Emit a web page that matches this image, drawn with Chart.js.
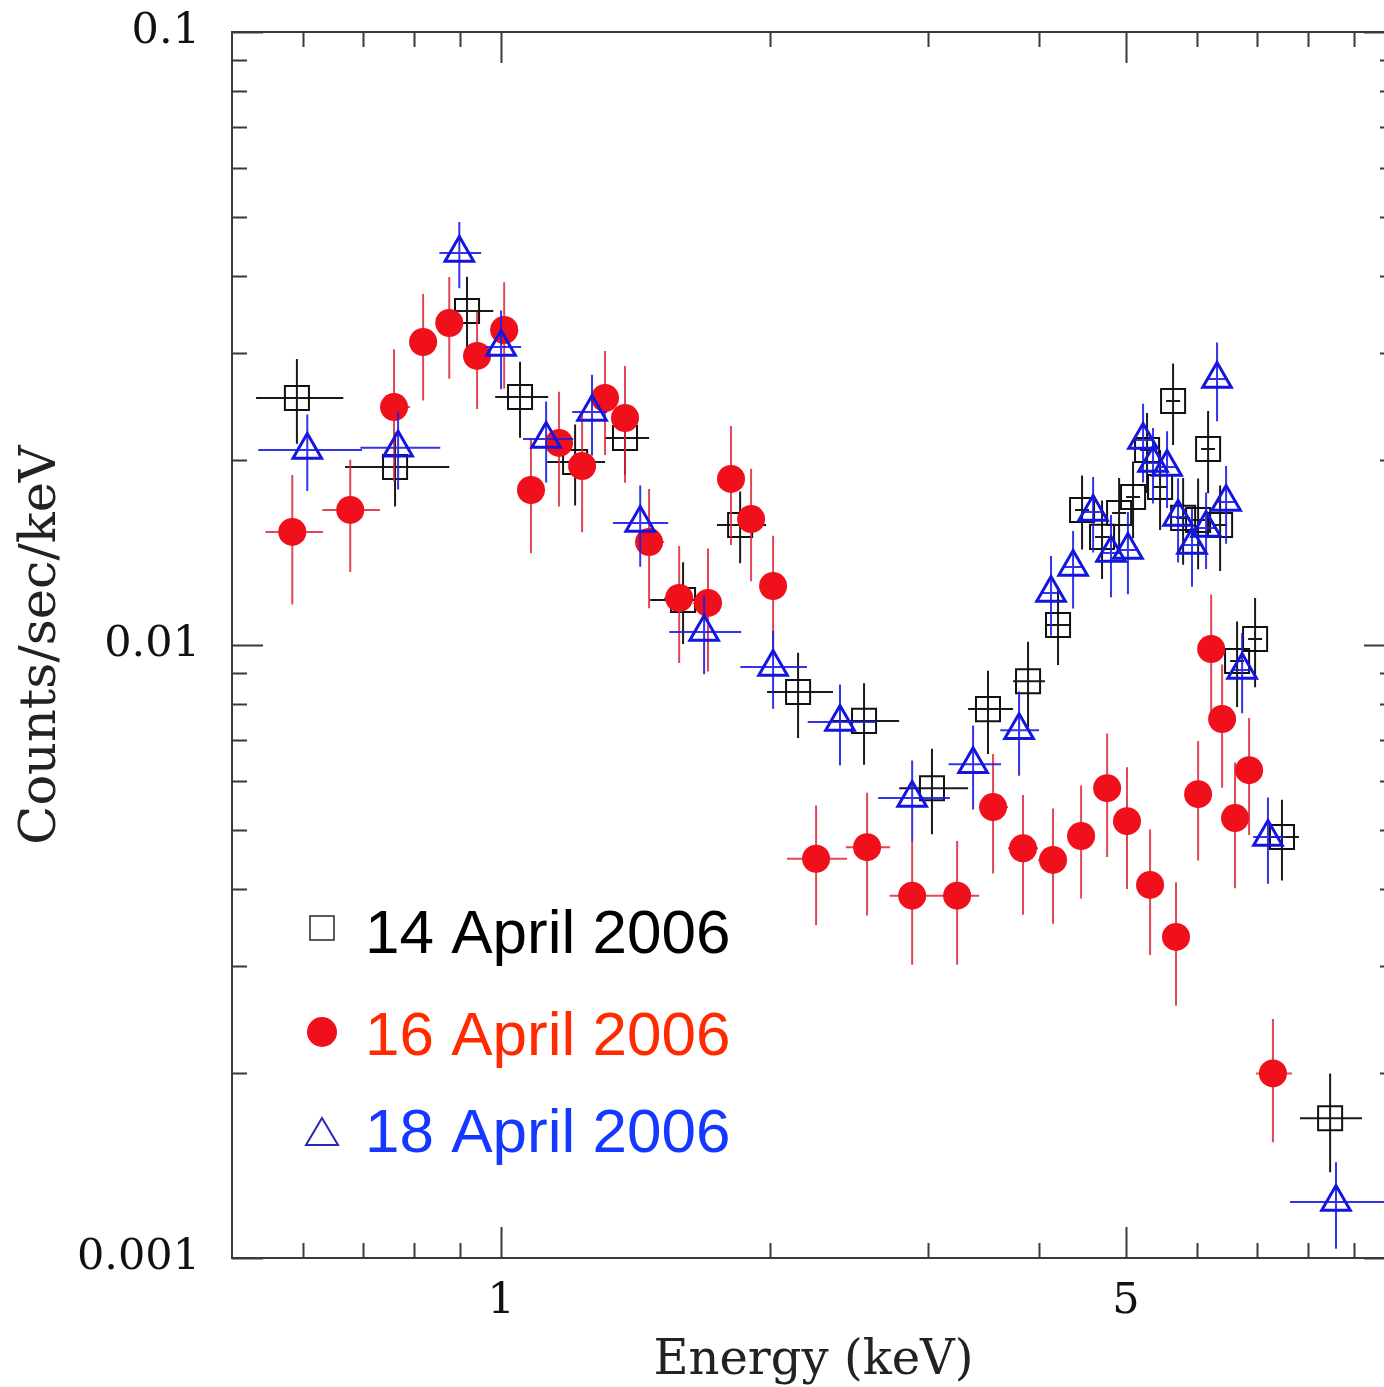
<!DOCTYPE html>
<html><head><meta charset="utf-8">
<script src="https://cdn.jsdelivr.net/npm/chart.js@4.4.1/dist/chart.umd.min.js"></script>
<style>html,body{margin:0;padding:0;background:#fff;overflow:hidden;width:1384px;height:1387px}canvas{display:block}</style>
</head><body>
<canvas id="c" width="1420" height="1387"></canvas>
<script>
// ---------- data ----------
const seriesLabels = ['14 April 2006', '16 April 2006', '18 April 2006'];

// 14 April 2006 (open squares)
const apr14Energy = [0.591,0.761,0.916,1.050,1.210,1.376,1.598,1.851,2.149,2.547,3.034,3.505,3.886,4.198,4.466,4.702,4.913,5.093,5.280,5.460,5.646,5.794,6.022,6.179,6.373,6.658,6.974,7.474,8.461];
const apr14Lo     = [0.532,0.669,0.866,0.985,1.126,1.307,1.468,1.744,1.984,2.351,2.788,3.330,3.739,4.070,4.386,4.618,4.825,5.002,5.186,5.362,5.545,5.690,5.914,6.068,6.259,6.539,6.849,7.247,7.828];
const apr14Hi     = [0.666,0.875,0.980,1.129,1.307,1.464,1.736,1.979,2.351,2.788,3.330,3.739,4.059,4.330,4.547,4.788,5.002,5.186,5.376,5.559,5.749,5.899,6.132,6.291,6.489,6.779,7.101,7.808,9.186];
const apr14Counts = [0.02529,0.01952,0.03506,0.02539,0.01989,0.02176,0.01184,0.01570,0.00838,0.00752,0.00584,0.00786,0.00873,0.01078,0.01661,0.01501,0.01642,0.01743,0.02080,0.01810,0.02500,0.01612,0.01599,0.02088,0.01570,0.00942,0.01023,0.00486,0.00169];
const apr14Err    = [0.0040,0.0027,0.0048,0.0036,0.0030,0.0028,0.0018,0.0021,0.00133,0.00114,0.00093,0.00122,0.00139,0.0015,0.0023,0.0022,0.0023,0.0025,0.0031,0.0027,0.0038,0.0026,0.0027,0.0032,0.0025,0.0015,0.0017,0.00073,0.00031];

// 16 April 2006 (filled circles)
const apr16Energy = [0.584,0.678,0.759,0.818,0.875,0.940,1.008,1.080,1.161,1.232,1.307,1.376,1.464,1.582,1.704,1.808,1.904,2.015,2.251,2.567,2.883,3.237,3.551,3.836,4.144,4.455,4.764,5.014,5.321,5.689,6.022,6.228,6.406,6.623,6.867,7.302];
const apr16Lo     = [0.545,0.631,0.732,0.791,0.848,0.907,0.972,1.045,1.120,1.194,1.270,1.341,1.419,1.522,1.640,1.758,1.856,1.959,2.089,2.430,2.720,3.074,3.426,3.690,3.988,4.297,4.606,4.887,5.160,5.503,5.852,6.116,6.307,6.505,6.745,6.992];
const apr16Hi     = [0.632,0.732,0.791,0.848,0.907,0.972,1.045,1.120,1.194,1.270,1.341,1.419,1.522,1.640,1.758,1.856,1.959,2.089,2.438,2.724,3.074,3.426,3.690,3.988,4.297,4.606,4.887,5.160,5.503,5.852,6.116,6.307,6.505,6.745,6.992,7.670];
const apr16Counts = [0.01529,0.01661,0.02444,0.03121,0.03352,0.02962,0.03265,0.01790,0.02136,0.01959,0.02529,0.02346,0.01472,0.01193,0.01171,0.01866,0.01605,0.01248,0.00448,0.00468,0.00390,0.00390,0.00544,0.00466,0.00446,0.00488,0.00584,0.00516,0.00406,0.00334,0.00571,0.00985,0.00757,0.00522,0.00625,0.00200];
const apr16Err    = [0.00365,0.00345,0.00594,0.00615,0.00633,0.00536,0.00643,0.00379,0.00453,0.00431,0.00488,0.00507,0.00324,0.00258,0.00266,0.0041,0.00334,0.0026,0.00099,0.00106,0.00089,0.00089,0.0012,0.00103,0.00095,0.00102,0.00133,0.00116,0.00094,0.00076,0.00126,0.00224,0.00172,0.00121,0.00135,0.000455];

// 18 April 2006 (open triangles)
const apr18Energy = [0.607,0.767,0.898,1.000,1.123,1.264,1.431,1.687,2.015,2.394,2.883,3.373,3.797,4.123,4.364,4.595,4.812,5.026,5.226,5.362,5.559,5.719,5.928,6.147,6.323,6.472,6.745,7.209,8.590];
const apr18Lo     = [0.535,0.696,0.853,0.960,1.058,1.201,1.334,1.542,1.852,2.203,2.641,3.167,3.618,4.028,4.264,4.489,4.702,4.910,5.106,5.239,5.431,5.587,5.792,6.006,6.178,6.323,6.590,6.939,7.631];
const apr18Hi     = [0.699,0.855,0.950,1.053,1.204,1.314,1.538,1.856,2.199,2.628,3.178,3.625,3.998,4.220,4.466,4.703,4.925,5.144,5.349,5.488,5.690,5.853,6.067,6.292,6.472,6.624,6.903,7.534,10.5];
const apr18Counts = [0.02080,0.02097,0.04359,0.03063,0.02168,0.02399,0.01581,0.01050,0.00921,0.00749,0.00563,0.00639,0.00726,0.01216,0.01341,0.01648,0.01413,0.01429,0.02159,0.01981,0.01952,0.01617,0.01456,0.01552,0.02716,0.01711,0.00910,0.00486,0.001234];
const apr18Err    = [0.00297,0.00304,0.0054,0.0045,0.00327,0.00362,0.00239,0.00154,0.00134,0.00113,0.00085,0.0010,0.00114,0.00181,0.00194,0.00232,0.00216,0.00219,0.00317,0.00279,0.00279,0.00254,0.00211,0.00222,0.00399,0.00248,0.00136,0.00078,0.000199];

// axes ticks
const xTickValues = [0.6,0.7,0.8,0.9,1,2,3,4,5,6,7,8,9,10];
const xMajorValues = [1,5,10];
const xLabelValues = [1,5];
const xLabelTexts = ['1','5'];
const yTickValues = [0.001,0.002,0.003,0.004,0.005,0.006,0.007,0.008,0.009,0.01,0.02,0.03,0.04,0.05,0.06,0.07,0.08,0.09,0.1];
const yMajorValues = [0.001,0.01,0.1];
const yLabelValues = [0.001,0.01,0.1];
const yLabelTexts = ['0.001','0.01','0.1'];
const xTitle = 'Energy (keV)';
const yTitle = 'Counts/sec/keV';

// ---------- build ----------
function pts(e, lo, hi, c, err) {
  return e.map((v, i) => ({x: v, y: c[i], xMin: lo[i], xMax: hi[i], yErr: err[i]}));
}
const near = (a, b) => Math.abs(a - b) < 1e-9 * Math.max(1, Math.abs(b));

const errorBars = {
  id: 'errorBars',
  beforeDatasetDraw(chart, args) {
    const ds = chart.data.datasets[args.index];
    const xs = chart.scales.x, ys = chart.scales.y, ctx = chart.ctx, a = chart.chartArea;
    ctx.save();
    ctx.beginPath(); ctx.rect(a.left, a.top, a.right - a.left, a.bottom - a.top); ctx.clip();
    ctx.strokeStyle = ds.errorColor; ctx.lineWidth = ds.errorWidth; ctx.lineCap = 'butt';
    ds.data.forEach(p => {
      const x = xs.getPixelForValue(p.x), y = ys.getPixelForValue(p.y);
      ctx.beginPath();
      ctx.moveTo(xs.getPixelForValue(p.xMin), y); ctx.lineTo(xs.getPixelForValue(p.xMax), y);
      ctx.moveTo(x, ys.getPixelForValue(Math.max(p.y - p.yErr, 1e-5))); ctx.lineTo(x, ys.getPixelForValue(p.y + p.yErr));
      ctx.stroke();
    });
    ctx.restore();
  }
};

const frame = {
  id: 'frame',
  afterDatasetsDraw(chart) {
    const {ctx, chartArea: a} = chart;
    const xs = chart.scales.x, ys = chart.scales.y;
    ctx.save();
    ctx.strokeStyle = '#3a3a3a'; ctx.lineWidth = 2;
    ctx.strokeRect(a.left, a.top, a.right - a.left, a.bottom - a.top);
    ctx.beginPath();
    xTickValues.forEach(v => {
      const px = Math.round(xs.getPixelForValue(v)) + 0.5;
      const len = xMajorValues.some(m => near(m, v)) ? 31 : 15;
      ctx.moveTo(px, a.bottom); ctx.lineTo(px, a.bottom - len);
      ctx.moveTo(px, a.top); ctx.lineTo(px, a.top + len);
    });
    yTickValues.forEach(v => {
      const py = Math.round(ys.getPixelForValue(v)) + 0.5;
      const len = yMajorValues.some(m => near(m, v)) ? 31 : 15;
      ctx.moveTo(a.left, py); ctx.lineTo(a.left + len, py);
      ctx.moveTo(a.right, py); ctx.lineTo(a.right - len, py);
    });
    ctx.stroke();
    ctx.restore();
  }
};

const legendBox = {
  id: 'legendBox',
  afterDraw(chart) {
    const ctx = chart.ctx;
    const mx = 322, tx = 365;
    const rows = [
      {my: 928, ty: 953, color: '#000000'},
      {my: 1032, ty: 1055, color: '#ff2a00'},
      {my: 1133, ty: 1152, color: '#1438ff'}
    ];
    ctx.save();
    ctx.lineWidth = 1.6; ctx.strokeStyle = '#333';
    ctx.strokeRect(mx - 12, rows[0].my - 12, 24, 24);
    ctx.fillStyle = '#f0101c';
    ctx.beginPath(); ctx.arc(mx, rows[1].my, 15, 0, Math.PI * 2); ctx.fill();
    ctx.strokeStyle = '#2828b0'; ctx.lineWidth = 2;
    ctx.beginPath();
    ctx.moveTo(mx, rows[2].my - 15); ctx.lineTo(mx + 16, rows[2].my + 12); ctx.lineTo(mx - 16, rows[2].my + 12); ctx.closePath();
    ctx.stroke();
    ctx.font = '62px "Liberation Sans", Arial, sans-serif';
    ctx.textBaseline = 'alphabetic'; ctx.textAlign = 'left';
    rows.forEach((r, i) => { ctx.fillStyle = r.color; ctx.fillText(chart.data.datasets[i].label, tx, r.ty); });
    ctx.restore();
  }
};

new Chart(document.getElementById('c'), {
  type: 'scatter',
  data: {
    datasets: [
      {label: seriesLabels[0], data: pts(apr14Energy, apr14Lo, apr14Hi, apr14Counts, apr14Err),
       pointStyle: 'rect', pointRadius: 17, borderColor: '#111111', borderWidth: 2, backgroundColor: 'rgba(0,0,0,0)',
       errorColor: '#1a1a1a', errorWidth: 2, order: 3},
      {label: seriesLabels[1], data: pts(apr16Energy, apr16Lo, apr16Hi, apr16Counts, apr16Err),
       pointStyle: 'circle', pointRadius: 14, borderWidth: 0, borderColor: '#f0101c', backgroundColor: '#f0101c',
       errorColor: 'rgba(220,40,55,0.85)', errorWidth: 2, order: 2},
      {label: seriesLabels[2], data: pts(apr18Energy, apr18Lo, apr18Hi, apr18Counts, apr18Err),
       pointStyle: 'triangle', pointRadius: 16.5, borderColor: '#1515e0', borderWidth: 3, backgroundColor: 'rgba(0,0,0,0)',
       errorColor: 'rgba(30,30,230,0.9)', errorWidth: 2, order: 1}
    ]
  },
  options: {
    responsive: false, animation: false, events: [],
    layout: {padding: {top: 32, right: 25, bottom: 0, left: 0}},
    plugins: {legend: {display: false}, tooltip: {enabled: false}},
    scales: {
      x: {
        type: 'logarithmic', min: 0.5, max: 10, position: 'bottom',
        afterBuildTicks(s) { s.ticks = xTickValues.map(v => ({value: v})); },
        afterFit(s) { s.height = 129; s.paddingLeft = 0; s.paddingRight = 0; },
        grid: {display: false, drawTicks: false}, border: {display: false},
        ticks: {
          autoSkip: false, maxRotation: 0, padding: 22, color: '#111',
          font: {family: '"DejaVu Serif", serif', size: 43, lineHeight: 1},
          callback(v) { const i = xLabelValues.findIndex(m => near(m, v)); return i >= 0 ? xLabelTexts[i] : ''; }
        },
        title: {display: true, text: xTitle, color: '#222', padding: {top: 0, bottom: 1},
                font: {family: '"DejaVu Serif", serif', size: 48, lineHeight: 1}}
      },
      y: {
        type: 'logarithmic', min: 0.001, max: 0.1, position: 'left',
        afterBuildTicks(s) { s.ticks = yTickValues.map(v => ({value: v})); },
        afterFit(s) { s.width = 232; s.paddingTop = 0; s.paddingBottom = 0; },
        grid: {display: false, drawTicks: false}, border: {display: false},
        ticks: {
          autoSkip: false, padding: 32, color: '#111',
          font: {family: '"DejaVu Serif", serif', size: 43, lineHeight: 1},
          callback(v) { const i = yLabelValues.findIndex(m => near(m, v)); return i >= 0 ? yLabelTexts[i] : ''; }
        },
        title: {display: true, text: yTitle, color: '#222', padding: {top: 16, bottom: 0},
                font: {family: '"DejaVu Serif", serif', size: 51, lineHeight: 1}}
      }
    }
  },
  plugins: [errorBars, frame, legendBox]
});
</script>
</body></html>
